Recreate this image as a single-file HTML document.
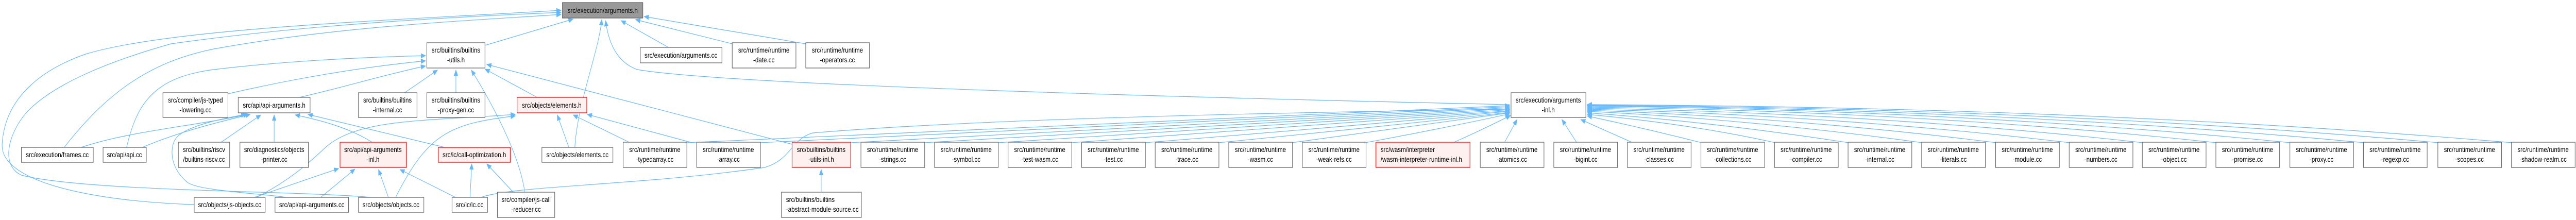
<!DOCTYPE html>
<html><head><meta charset="utf-8">
<style>
html,body{margin:0;padding:0;background:#fff;overflow:hidden;width:100%;height:100%;}
svg{display:block;width:100vw;height:100vh;}
text{font-family:"Liberation Sans",sans-serif;font-size:14px;fill:#000;}
.b{fill:#fff;stroke:#666;stroke-width:1.3;}
.r{fill:#fff0f0;stroke:#f00;stroke-width:1.3;}
.g{fill:#999;stroke:#666;stroke-width:1.3;}
.e{fill:none;stroke:#63b8ff;stroke-width:1.2;marker-end:url(#a);}
</style></head><body>
<svg viewBox="0 0 6023 427" preserveAspectRatio="none" xmlns="http://www.w3.org/2000/svg">
<defs>
<marker id="a" markerUnits="userSpaceOnUse" markerWidth="12" markerHeight="10" refX="11" refY="5" orient="auto">
<polygon points="0,0 12,5 0,10" fill="#63b8ff"/>
</marker>
</defs>

<path class="e" d="M454,397 C200,390 0,350 5,280 C10,200 80,140 200,105 C400,55 900,40 1312,20"/>
<path class="e" d="M867,383 C700,370 200,372 50,340 C0,320 20,260 60,220 C120,165 250,120 400,85 C700,50 1000,35 1312,24"/>
<path class="e" d="M150,286 C250,180 350,120 500,95 C800,50 1100,40 1312,28"/>
<path class="e" d="M296,286 C320,200 360,150 500,135 C700,115 900,110 995,108"/>
<path class="e" d="M533,182 C700,150 850,130 995,118"/>
<path class="e" d="M700,189 C800,170 900,145 995,128"/>
<path class="e" d="M1134,88 L1340,37"/>
<path class="e" d="M946,180 L1023,136"/>
<path class="e" d="M1066,180 L1066,136"/>
<path class="e" d="M1227,373 C1215,300 1150,200 1102,136"/>
<path class="e" d="M1256,189 L1134,134"/>
<path class="e" d="M1852,280 L1138,125"/>
<path class="e" d="M1344,286 C1350,200 1400,100 1407,38"/>
<path class="e" d="M1330,286 L1303,223"/>
<path class="e" d="M1471,276 L1340,223"/>
<path class="e" d="M1614,276 L1373,222"/>
<path class="e" d="M1563,92 L1452,40"/>
<path class="e" d="M1712,85 L1486,38"/>
<path class="e" d="M1884,85 L1506,32"/>
<path class="e" d="M3530,203 C2800,190 1700,165 1490,135 C1440,120 1422,80 1416,40"/>
<path class="e" d="M870,276 C820,250 760,235 690,223"/>
<path class="e" d="M1040,286 L720,222"/>
<path class="e" d="M190,286 C300,255 450,245 580,222"/>
<path class="e" d="M333,286 C420,255 520,235 585,222"/>
<path class="e" d="M517,276 L610,223"/>
<path class="e" d="M641,276 L641,223"/>
<path class="e" d="M670,383 C600,375 470,370 440,355 C400,330 395,290 410,270 C430,245 520,230 575,222"/>
<path class="e" d="M595,383 L792,327"/>
<path class="e" d="M600,383 C700,340 740,300 770,280 C850,230 1000,235 1205,222"/>
<path class="e" d="M925,383 C1000,260 1050,240 1205,225"/>
<path class="e" d="M750,383 L830,328"/>
<path class="e" d="M908,383 L885,329"/>
<path class="e" d="M1065,383 L935,329"/>
<path class="e" d="M1099,383 L1103,318"/>
<path class="e" d="M1200,373 L1138,318"/>
<path class="e" d="M1125,383 C1200,360 1500,360 1788,325 C1850,310 1850,270 1900,258 C2300,230 3000,218 3530,212"/>
<path class="e" d="M1920,373 L1920,329"/>

<path class="e" d="M1604,277 Q2800,230 3530,205"/>
<path class="e" d="M1776,277 Q2900,232 3530,207"/>
<path class="e" d="M1987,277 Q3000,234 3530,209"/>
<path class="e" d="M2160,277 Q3050,236 3530,211"/>
<path class="e" d="M2332,277 Q3100,238 3530,213"/>
<path class="e" d="M2504,277 Q3150,240 3530,215"/>
<path class="e" d="M2676,277 Q3200,242 3530,216"/>
<path class="e" d="M2848,277 Q3250,244 3530,218"/>
<path class="e" d="M3020,277 Q3300,246 3530,219"/>
<path class="e" d="M3192,277 Q3380,248 3530,221"/>
<path class="e" d="M3400,276 Q3470,250 3532,224"/>
<path class="e" d="M3518,276 L3547,232"/>
<path class="e" d="M3686,276 L3652,232"/>
<path class="e" d="M3815,276 L3696,232"/>
<path class="e" d="M3979,277 Q3850,250 3711,225"/>
<path class="e" d="M4151,277 Q3950,240 3711,222"/>
<path class="e" d="M4323,277 Q4000,236 3711,219"/>
<path class="e" d="M4495,277 Q4100,232 3711,216"/>
<path class="e" d="M4668,277 Q4200,228 3711,214"/>
<path class="e" d="M4840,277 Q4300,224 3711,212"/>
<path class="e" d="M5011,277 Q4400,220 3711,210"/>
<path class="e" d="M5183,277 Q4500,216 3711,208"/>
<path class="e" d="M5356,277 Q4600,214 3711,206"/>
<path class="e" d="M5528,277 Q4700,212 3711,205"/>
<path class="e" d="M5702,277 Q4800,210 3711,204"/>
<path class="e" d="M5874,277 Q4900,208 3711,203"/>

<g>
<rect class="g" x="1315" y="5" width="188" height="30"/><text x="1409" y="25" text-anchor="middle">src/execution/arguments.h</text>

<rect class="b" x="998" y="83" width="136" height="49"/><text x="1066" y="102" text-anchor="middle">src/builtins/builtins</text><text x="1066" y="121" text-anchor="middle">-utils.h</text>
<rect class="b" x="1497" y="92" width="191" height="30"/><text x="1592" y="112" text-anchor="middle">src/execution/arguments.cc</text>
<rect class="b" x="1712" y="83" width="149" height="49"/><text x="1786" y="102" text-anchor="middle">src/runtime/runtime</text><text x="1786" y="121" text-anchor="middle">-date.cc</text>
<rect class="b" x="1884" y="83" width="149" height="49"/><text x="1958" y="102" text-anchor="middle">src/runtime/runtime</text><text x="1958" y="121" text-anchor="middle">-operators.cc</text>

<rect class="b" x="381" y="180" width="152" height="48"/><text x="457" y="199" text-anchor="middle">src/compiler/js-typed</text><text x="457" y="218" text-anchor="middle">-lowering.cc</text>
<rect class="b" x="557" y="189" width="168" height="30"/><text x="641" y="209" text-anchor="middle">src/api/api-arguments.h</text>
<rect class="b" x="838" y="180" width="137" height="48"/><text x="906" y="199" text-anchor="middle">src/builtins/builtins</text><text x="906" y="218" text-anchor="middle">-internal.cc</text>
<rect class="b" x="998" y="180" width="136" height="48"/><text x="1066" y="199" text-anchor="middle">src/builtins/builtins</text><text x="1066" y="218" text-anchor="middle">-proxy-gen.cc</text>
<rect class="r" x="1209" y="189" width="163" height="30"/><text x="1290" y="209" text-anchor="middle">src/objects/elements.h</text>
<rect class="b" x="3533" y="180" width="175" height="48"/><text x="3620" y="199" text-anchor="middle">src/execution/arguments</text><text x="3620" y="218" text-anchor="middle">-inl.h</text>

<rect class="b" x="50" y="286" width="168" height="29"/><text x="134" y="305" text-anchor="middle">src/execution/frames.cc</text>
<rect class="b" x="241" y="286" width="101" height="29"/><text x="291" y="305" text-anchor="middle">src/api/api.cc</text>
<rect class="b" x="417" y="276" width="120" height="49"/><text x="477" y="295" text-anchor="middle">src/builtins/riscv</text><text x="477" y="314" text-anchor="middle">/builtins-riscv.cc</text>
<rect class="b" x="561" y="276" width="160" height="49"/><text x="641" y="295" text-anchor="middle">src/diagnostics/objects</text><text x="641" y="314" text-anchor="middle">-printer.cc</text>
<rect class="r" x="795" y="276" width="155" height="49"/><text x="872" y="295" text-anchor="middle">src/api/api-arguments</text><text x="872" y="314" text-anchor="middle">-inl.h</text>
<rect class="r" x="1025" y="286" width="168" height="29"/><text x="1109" y="305" text-anchor="middle">src/ic/call-optimization.h</text>
<rect class="b" x="1267" y="286" width="166" height="29"/><text x="1350" y="305" text-anchor="middle">src/objects/elements.cc</text>

<rect class="b" x="1457" y="276" width="149" height="49"/><text x="1531" y="295" text-anchor="middle">src/runtime/runtime</text><text x="1531" y="314" text-anchor="middle">-typedarray.cc</text>
<rect class="b" x="1629" y="276" width="149" height="49"/><text x="1703" y="295" text-anchor="middle">src/runtime/runtime</text><text x="1703" y="314" text-anchor="middle">-array.cc</text>
<rect class="r" x="1852" y="276" width="137" height="49"/><text x="1920" y="295" text-anchor="middle">src/builtins/builtins</text><text x="1920" y="314" text-anchor="middle">-utils-inl.h</text>
<rect class="b" x="2013" y="276" width="149" height="49"/><text x="2087" y="295" text-anchor="middle">src/runtime/runtime</text><text x="2087" y="314" text-anchor="middle">-strings.cc</text>
<rect class="b" x="2185" y="276" width="149" height="49"/><text x="2259" y="295" text-anchor="middle">src/runtime/runtime</text><text x="2259" y="314" text-anchor="middle">-symbol.cc</text>
<rect class="b" x="2357" y="276" width="149" height="49"/><text x="2431" y="295" text-anchor="middle">src/runtime/runtime</text><text x="2431" y="314" text-anchor="middle">-test-wasm.cc</text>
<rect class="b" x="2529" y="276" width="149" height="49"/><text x="2603" y="295" text-anchor="middle">src/runtime/runtime</text><text x="2603" y="314" text-anchor="middle">-test.cc</text>
<rect class="b" x="2701" y="276" width="149" height="49"/><text x="2775" y="295" text-anchor="middle">src/runtime/runtime</text><text x="2775" y="314" text-anchor="middle">-trace.cc</text>
<rect class="b" x="2873" y="276" width="149" height="49"/><text x="2947" y="295" text-anchor="middle">src/runtime/runtime</text><text x="2947" y="314" text-anchor="middle">-wasm.cc</text>
<rect class="b" x="3045" y="276" width="149" height="49"/><text x="3119" y="295" text-anchor="middle">src/runtime/runtime</text><text x="3119" y="314" text-anchor="middle">-weak-refs.cc</text>
<rect class="r" x="3217" y="276" width="220" height="49"/><text x="3228" y="295">src/wasm/interpreter</text><text x="3228" y="314">/wasm-interpreter-runtime-inl.h</text>
<rect class="b" x="3461" y="276" width="149" height="49"/><text x="3535" y="295" text-anchor="middle">src/runtime/runtime</text><text x="3535" y="314" text-anchor="middle">-atomics.cc</text>
<rect class="b" x="3633" y="276" width="149" height="49"/><text x="3707" y="295" text-anchor="middle">src/runtime/runtime</text><text x="3707" y="314" text-anchor="middle">-bigint.cc</text>
<rect class="b" x="3805" y="276" width="149" height="49"/><text x="3879" y="295" text-anchor="middle">src/runtime/runtime</text><text x="3879" y="314" text-anchor="middle">-classes.cc</text>
<rect class="b" x="3977" y="276" width="149" height="49"/><text x="4051" y="295" text-anchor="middle">src/runtime/runtime</text><text x="4051" y="314" text-anchor="middle">-collections.cc</text>
<rect class="b" x="4149" y="276" width="149" height="49"/><text x="4223" y="295" text-anchor="middle">src/runtime/runtime</text><text x="4223" y="314" text-anchor="middle">-compiler.cc</text>
<rect class="b" x="4321" y="276" width="149" height="49"/><text x="4395" y="295" text-anchor="middle">src/runtime/runtime</text><text x="4395" y="314" text-anchor="middle">-internal.cc</text>
<rect class="b" x="4493" y="276" width="149" height="49"/><text x="4567" y="295" text-anchor="middle">src/runtime/runtime</text><text x="4567" y="314" text-anchor="middle">-literals.cc</text>
<rect class="b" x="4666" y="276" width="149" height="49"/><text x="4740" y="295" text-anchor="middle">src/runtime/runtime</text><text x="4740" y="314" text-anchor="middle">-module.cc</text>
<rect class="b" x="4838" y="276" width="149" height="49"/><text x="4912" y="295" text-anchor="middle">src/runtime/runtime</text><text x="4912" y="314" text-anchor="middle">-numbers.cc</text>
<rect class="b" x="5009" y="276" width="149" height="49"/><text x="5083" y="295" text-anchor="middle">src/runtime/runtime</text><text x="5083" y="314" text-anchor="middle">-object.cc</text>
<rect class="b" x="5181" y="276" width="149" height="49"/><text x="5255" y="295" text-anchor="middle">src/runtime/runtime</text><text x="5255" y="314" text-anchor="middle">-promise.cc</text>
<rect class="b" x="5354" y="276" width="149" height="49"/><text x="5428" y="295" text-anchor="middle">src/runtime/runtime</text><text x="5428" y="314" text-anchor="middle">-proxy.cc</text>
<rect class="b" x="5526" y="276" width="149" height="49"/><text x="5600" y="295" text-anchor="middle">src/runtime/runtime</text><text x="5600" y="314" text-anchor="middle">-regexp.cc</text>
<rect class="b" x="5700" y="276" width="149" height="49"/><text x="5774" y="295" text-anchor="middle">src/runtime/runtime</text><text x="5774" y="314" text-anchor="middle">-scopes.cc</text>
<rect class="b" x="5872" y="276" width="149" height="49"/><text x="5946" y="295" text-anchor="middle">src/runtime/runtime</text><text x="5946" y="314" text-anchor="middle">-shadow-realm.cc</text>

<rect class="b" x="454" y="383" width="166" height="29"/><text x="537" y="402" text-anchor="middle">src/objects/js-objects.cc</text>
<rect class="b" x="643" y="383" width="172" height="29"/><text x="729" y="402" text-anchor="middle">src/api/api-arguments.cc</text>
<rect class="b" x="838" y="383" width="153" height="29"/><text x="914" y="402" text-anchor="middle">src/objects/objects.cc</text>
<rect class="b" x="1057" y="383" width="83" height="29"/><text x="1098" y="402" text-anchor="middle">src/ic/ic.cc</text>
<rect class="b" x="1163" y="373" width="134" height="49"/><text x="1230" y="392" text-anchor="middle">src/compiler/js-call</text><text x="1230" y="411" text-anchor="middle">-reducer.cc</text>
<rect class="b" x="1827" y="373" width="187" height="49"/><text x="1838" y="392">src/builtins/builtins</text><text x="1838" y="411">-abstract-module-source.cc</text>
</g>
</svg>
</body></html>
